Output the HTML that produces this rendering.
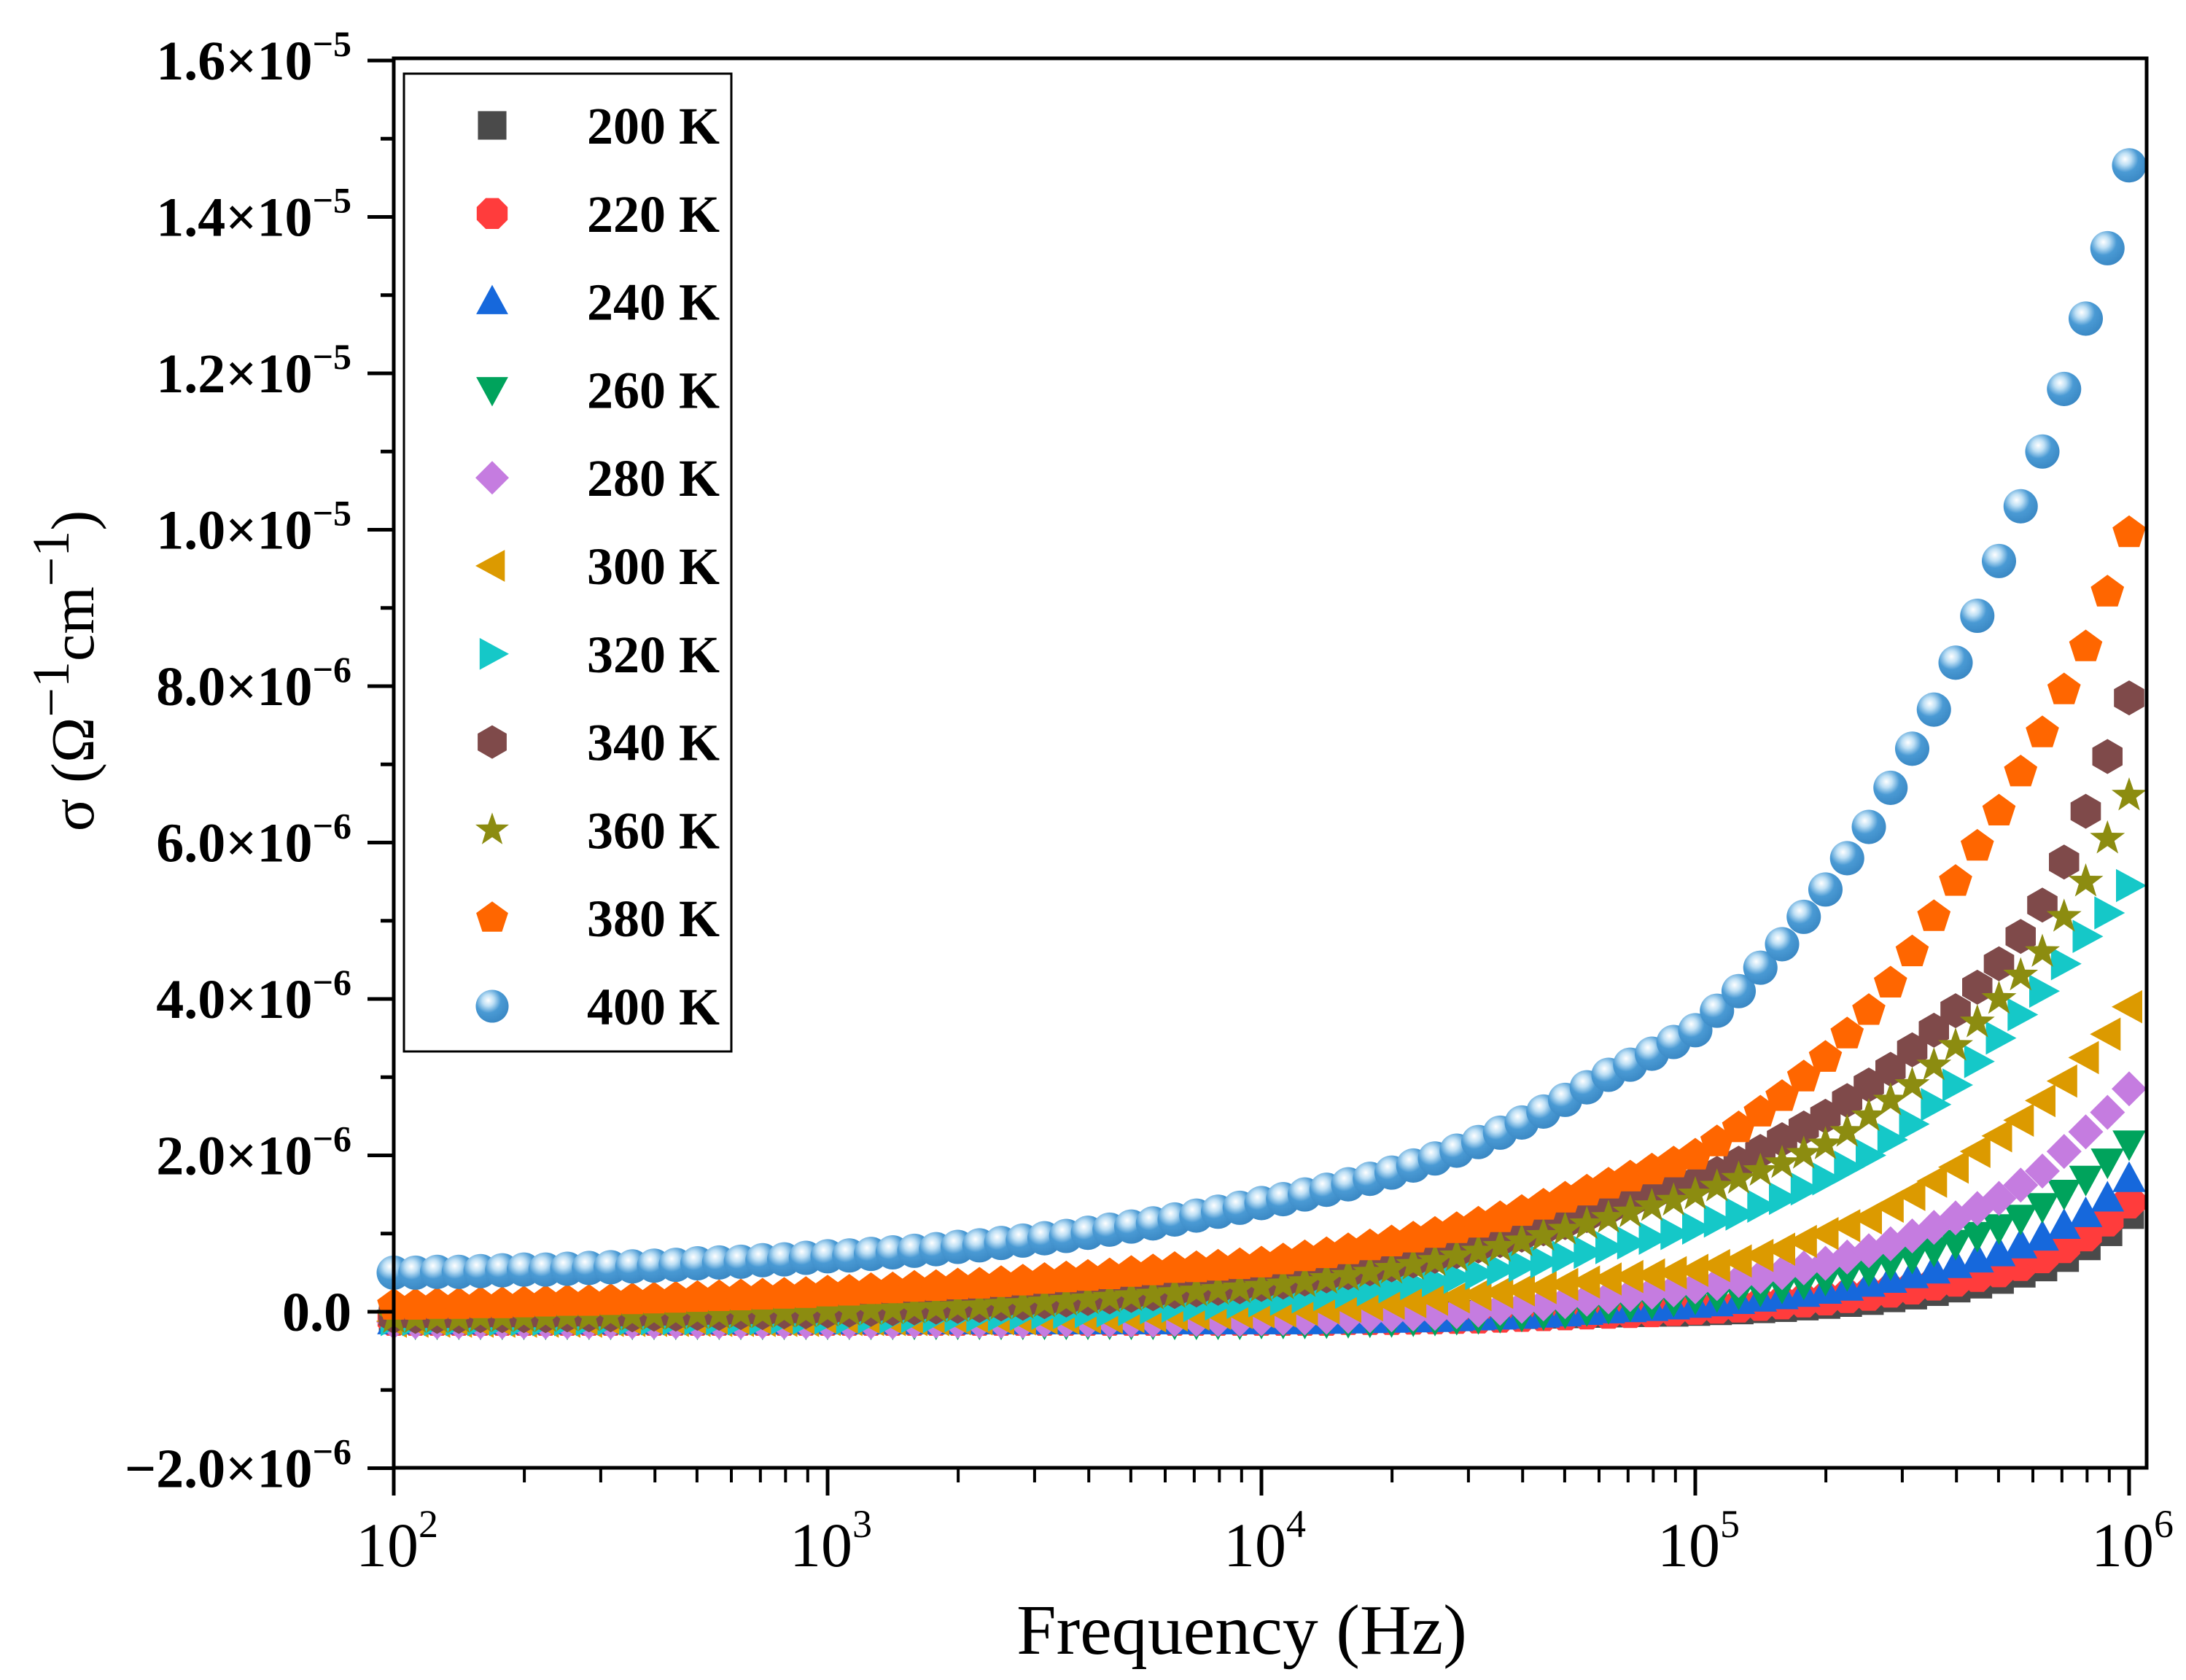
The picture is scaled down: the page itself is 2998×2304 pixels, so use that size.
<!DOCTYPE html>
<html><head><meta charset="utf-8"><title>AC conductivity vs frequency</title>
<style>html,body{margin:0;padding:0;background:#fff}svg{display:block}</style></head>
<body>
<svg id="chart" xmlns="http://www.w3.org/2000/svg" width="2998" height="2304" viewBox="0 0 2998 2304">
<defs>
<radialGradient id="sph" cx="0.38" cy="0.32" r="0.7">
<stop offset="0" stop-color="#ffffff"/><stop offset="0.25" stop-color="#bfe0f5"/><stop offset="0.55" stop-color="#4a9ad4"/><stop offset="1" stop-color="#3a88c4"/>
</radialGradient>
</defs>
<rect x="0" y="0" width="2998" height="2304" fill="#fff"/>
<g id="marks"></g>
<g id="axes"></g>
<g id="legend"></g>
</svg>
<script>
const logF = [2.00,2.05,2.10,2.15,2.20,2.25,2.30,2.35,2.40,2.45,2.50,2.55,2.60,2.65,2.70,2.75,2.80,2.85,2.90,2.95,
3.00,3.05,3.10,3.15,3.20,3.25,3.30,3.35,3.40,3.45,3.50,3.55,3.60,3.65,3.70,3.75,3.80,3.85,3.90,3.95,
4.00,4.05,4.10,4.15,4.20,4.25,4.30,4.35,4.40,4.45,4.50,4.55,4.60,4.65,4.70,4.75,4.80,4.85,4.90,4.95,
5.00,5.05,5.10,5.15,5.20,5.25,5.30,5.35,5.40,5.45,5.50,5.55,5.60,5.65,5.70,5.75,5.80,5.85,5.90,5.95,6.00];
const seriesNames = ["200 K","220 K","240 K","260 K","280 K","300 K","320 K","340 K","360 K","380 K","400 K"];
// values in units of 1e-6 (Ω^-1 cm^-1)
const s200 = [-0.06,-0.06,-0.06,-0.06,-0.06,-0.06,-0.06,-0.06,-0.06,-0.06,-0.06,-0.06,-0.06,-0.06,-0.06,-0.06,-0.06,-0.06,-0.06,-0.06,
-0.06,-0.06,-0.06,-0.06,-0.06,-0.06,-0.06,-0.06,-0.06,-0.06,-0.06,-0.06,-0.06,-0.06,-0.06,-0.06,-0.06,-0.06,-0.06,-0.06,
-0.06,-0.06,-0.06,-0.06,-0.06,-0.055,-0.05,-0.05,-0.05,-0.045,-0.04,-0.035,-0.03,-0.025,-0.02,-0.015,-0.01,-0.005,0.0,0.0,
0.01,0.02,0.03,0.045,0.06,0.08,0.1,0.125,0.15,0.185,0.22,0.265,0.31,0.36,0.42,0.5,0.58,0.7,0.85,1.03,1.25];
const s220 = [-0.10,-0.10,-0.10,-0.10,-0.10,-0.10,-0.10,-0.10,-0.10,-0.10,-0.10,-0.10,-0.10,-0.10,-0.10,-0.10,-0.10,-0.10,-0.10,-0.10,
-0.10,-0.10,-0.10,-0.10,-0.10,-0.10,-0.10,-0.10,-0.10,-0.10,-0.10,-0.10,-0.10,-0.10,-0.10,-0.10,-0.10,-0.10,-0.10,-0.10,
-0.10,-0.10,-0.10,-0.10,-0.09,-0.09,-0.09,-0.085,-0.08,-0.075,-0.07,-0.06,-0.05,-0.04,-0.03,-0.02,-0.01,0.0,0.01,0.025,
0.04,0.055,0.07,0.09,0.11,0.135,0.16,0.19,0.22,0.26,0.3,0.35,0.4,0.46,0.52,0.6,0.7,0.83,0.98,1.17,1.4];
const s240 = [-0.12,-0.12,-0.12,-0.12,-0.12,-0.12,-0.12,-0.12,-0.12,-0.12,-0.12,-0.12,-0.12,-0.12,-0.12,-0.12,-0.12,-0.12,-0.12,-0.12,
-0.12,-0.12,-0.12,-0.12,-0.12,-0.12,-0.12,-0.12,-0.12,-0.12,-0.12,-0.12,-0.12,-0.12,-0.12,-0.12,-0.12,-0.12,-0.12,-0.12,
-0.12,-0.12,-0.12,-0.115,-0.11,-0.105,-0.10,-0.095,-0.09,-0.08,-0.07,-0.06,-0.05,-0.035,-0.02,0.0,0.02,0.035,0.05,0.07,
0.09,0.11,0.14,0.17,0.2,0.23,0.27,0.31,0.36,0.41,0.47,0.53,0.6,0.67,0.75,0.85,0.95,1.1,1.25,1.45,1.7];
const s260 = [-0.14,-0.14,-0.14,-0.14,-0.14,-0.14,-0.14,-0.14,-0.14,-0.14,-0.14,-0.14,-0.14,-0.14,-0.14,-0.14,-0.14,-0.14,-0.14,-0.14,
-0.14,-0.14,-0.14,-0.14,-0.14,-0.14,-0.14,-0.14,-0.14,-0.14,-0.14,-0.14,-0.14,-0.14,-0.14,-0.14,-0.14,-0.14,-0.14,-0.14,
-0.13,-0.13,-0.13,-0.125,-0.12,-0.115,-0.11,-0.10,-0.09,-0.08,-0.07,-0.055,-0.04,-0.02,0.0,0.03,0.06,0.09,0.12,0.15,
0.18,0.21,0.24,0.28,0.32,0.37,0.42,0.48,0.54,0.62,0.7,0.79,0.88,0.98,1.08,1.2,1.35,1.52,1.7,1.92,2.15];
const s280 = [-0.13,-0.13,-0.13,-0.13,-0.13,-0.13,-0.13,-0.13,-0.13,-0.13,-0.13,-0.13,-0.13,-0.13,-0.13,-0.13,-0.13,-0.13,-0.13,-0.13,
-0.13,-0.13,-0.13,-0.13,-0.12,-0.12,-0.12,-0.12,-0.12,-0.12,-0.11,-0.11,-0.11,-0.11,-0.11,-0.11,-0.10,-0.10,-0.10,-0.10,
-0.09,-0.085,-0.08,-0.07,-0.06,-0.05,-0.04,-0.03,-0.02,0.0,0.02,0.045,0.07,0.10,0.13,0.16,0.19,0.22,0.25,0.28,
0.32,0.36,0.4,0.45,0.5,0.56,0.62,0.7,0.78,0.87,0.97,1.08,1.2,1.32,1.45,1.62,1.8,2.05,2.3,2.55,2.85];
const s300 = [-0.12,-0.12,-0.12,-0.12,-0.12,-0.12,-0.12,-0.12,-0.12,-0.12,-0.11,-0.11,-0.11,-0.11,-0.11,-0.11,-0.11,-0.11,-0.11,-0.11,
-0.10,-0.10,-0.10,-0.10,-0.10,-0.10,-0.09,-0.09,-0.09,-0.09,-0.08,-0.08,-0.07,-0.07,-0.06,-0.05,-0.04,-0.03,-0.02,-0.01,
0.0,0.01,0.03,0.05,0.07,0.09,0.11,0.13,0.16,0.19,0.22,0.25,0.28,0.31,0.35,0.38,0.42,0.45,0.47,0.50,
0.53,0.59,0.65,0.72,0.8,0.9,1.0,1.1,1.2,1.35,1.5,1.67,1.85,2.05,2.25,2.45,2.7,2.95,3.25,3.55,3.9];
const s320 = [-0.10,-0.10,-0.10,-0.10,-0.10,-0.10,-0.10,-0.10,-0.10,-0.10,-0.09,-0.09,-0.09,-0.09,-0.09,-0.09,-0.09,-0.09,-0.08,-0.08,
-0.08,-0.08,-0.07,-0.07,-0.06,-0.06,-0.05,-0.05,-0.04,-0.03,-0.02,-0.01,0.0,0.01,0.03,0.05,0.07,0.08,0.10,0.12,
0.14,0.16,0.19,0.22,0.25,0.28,0.32,0.36,0.40,0.44,0.49,0.54,0.59,0.64,0.70,0.76,0.82,0.88,0.94,1.0,
1.07,1.16,1.25,1.35,1.45,1.57,1.7,1.85,2.0,2.2,2.4,2.65,2.9,3.2,3.5,3.8,4.1,4.45,4.8,5.1,5.45];
const s340 = [-0.06,-0.06,-0.06,-0.06,-0.05,-0.05,-0.05,-0.05,-0.04,-0.04,-0.04,-0.04,-0.03,-0.03,-0.02,-0.02,-0.01,-0.01,0.0,0.0,
0.01,0.02,0.03,0.04,0.05,0.06,0.07,0.08,0.10,0.11,0.13,0.15,0.17,0.19,0.21,0.23,0.26,0.28,0.30,0.32,
0.35,0.38,0.42,0.46,0.50,0.55,0.60,0.65,0.71,0.77,0.84,0.91,0.98,1.06,1.14,1.23,1.32,1.41,1.5,1.57,
1.65,1.77,1.9,2.05,2.2,2.35,2.5,2.7,2.9,3.1,3.35,3.6,3.85,4.15,4.45,4.8,5.2,5.75,6.4,7.1,7.85];
const s360 = [-0.08,-0.08,-0.08,-0.08,-0.07,-0.07,-0.07,-0.07,-0.06,-0.06,-0.05,-0.05,-0.04,-0.04,-0.03,-0.03,-0.02,-0.02,-0.01,-0.01,
0.0,0.01,0.02,0.03,0.04,0.05,0.06,0.07,0.09,0.10,0.12,0.14,0.16,0.18,0.20,0.22,0.24,0.26,0.28,0.30,
0.32,0.35,0.38,0.42,0.46,0.50,0.55,0.60,0.65,0.71,0.77,0.83,0.90,0.97,1.05,1.12,1.2,1.27,1.35,1.42,
1.5,1.6,1.7,1.8,1.9,2.02,2.14,2.3,2.5,2.7,2.9,3.15,3.4,3.7,4.0,4.3,4.6,5.05,5.5,6.05,6.6];
const s380 = [0.08,0.08,0.09,0.09,0.10,0.10,0.11,0.12,0.13,0.13,0.14,0.15,0.16,0.17,0.18,0.19,0.20,0.21,0.22,0.23,
0.25,0.26,0.28,0.29,0.31,0.32,0.34,0.35,0.37,0.39,0.41,0.43,0.45,0.47,0.50,0.52,0.55,0.56,0.58,0.60,
0.62,0.66,0.70,0.74,0.79,0.84,0.89,0.94,1.0,1.06,1.13,1.20,1.28,1.36,1.45,1.54,1.63,1.72,1.81,1.9,
2.0,2.17,2.35,2.55,2.75,3.0,3.25,3.55,3.85,4.2,4.6,5.05,5.5,5.95,6.4,6.9,7.4,7.95,8.5,9.2,9.96];
const s400 = [0.50,0.50,0.51,0.51,0.52,0.53,0.54,0.54,0.55,0.56,0.57,0.58,0.59,0.60,0.62,0.63,0.64,0.66,0.67,0.69,
0.71,0.72,0.74,0.76,0.78,0.80,0.83,0.85,0.88,0.91,0.94,0.97,1.01,1.05,1.09,1.13,1.18,1.23,1.28,1.33,
1.39,1.44,1.50,1.56,1.63,1.70,1.78,1.87,1.96,2.06,2.17,2.29,2.42,2.56,2.71,2.87,3.03,3.16,3.3,3.45,
3.6,3.85,4.1,4.4,4.7,5.05,5.4,5.8,6.2,6.7,7.2,7.7,8.3,8.9,9.6,10.3,11.0,11.8,12.7,13.6,14.66];
const allSeries = [s200,s220,s240,s260,s280,s300,s320,s340,s360,s380,s400];
const yTickValues = [-2,0,2,4,6,8,10,12,14,16];
const yTickMant = ["\u22122.0","0.0","2.0","4.0","6.0","8.0","1.0","1.2","1.4","1.6"];
const yTickExp = ["\u22126","","\u22126","\u22126","\u22126","\u22126","\u22125","\u22125","\u22125","\u22125"];
const xTickExps = [2,3,4,5,6];

const colors = ["#4a4a4a","#ff3c3c","#1668dc","#00a35c","#c57ce0","#dc9a00","#15c8c8","#7f4a4a","#8c8c10","#ff6600","#4a9ad4"];
const shapes = ["square","circle","up","down","diamond","left","right","hexagon","star","pentagon","sphere"];

const NS = "http://www.w3.org/2000/svg";
const PL = 540, PR = 2944, PT = 80, PB = 2013;
const xScale = lf => 540 + (lf - 2) * 595;
const yScale = v => 1799 - v * 107.25;

function mk(tag, attrs, parent) {
  const e = document.createElementNS(NS, tag);
  for (const k in attrs) e.setAttribute(k, attrs[k]);
  parent.appendChild(e);
  return e;
}
function poly(n, r, rot) {
  const p = [];
  for (let i = 0; i < n; i++) { const a = rot + i * 2 * Math.PI / n; p.push([r * Math.cos(a), r * Math.sin(a)]); }
  return p;
}
function shapeEl(shape, cx, cy, r, color, parent) {
  let pts = null, el;
  const u = -Math.PI / 2;
  if (shape === "square") { el = mk("rect", {x: cx - r * 0.85, y: cy - r * 0.85, width: r * 1.7, height: r * 1.7, fill: color}, parent); return el; }
  if (shape === "circle") pts = poly(8, r, Math.PI / 8);
  if (shape === "up") pts = [[0, -r], [r * 0.95, r * 0.75], [-r * 0.95, r * 0.75]];
  if (shape === "down") pts = [[0, r], [r * 0.95, -r * 0.75], [-r * 0.95, -r * 0.75]];
  if (shape === "left") pts = [[-r, 0], [r * 0.75, -r * 0.95], [r * 0.75, r * 0.95]];
  if (shape === "right") pts = [[r, 0], [-r * 0.75, -r * 0.95], [-r * 0.75, r * 0.95]];
  if (shape === "diamond") pts = [[0, -r], [r, 0], [0, r], [-r, 0]];
  if (shape === "hexagon") pts = poly(6, r, u);
  if (shape === "pentagon") pts = poly(5, r, u);
  if (shape === "star") { pts = []; for (let i = 0; i < 10; i++) { const a = u + i * Math.PI / 5; const rr = i % 2 ? r * 0.42 : r * 1.05; pts.push([rr * Math.cos(a), rr * Math.sin(a)]); } }
  if (shape === "sphere") { el = mk("circle", {cx: cx, cy: cy, r: r * 0.98, fill: "url(#sph)"}, parent); return el; }
  el = mk("polygon", {points: pts.map(p => (cx + p[0]).toFixed(1) + "," + (cy + p[1]).toFixed(1)).join(" "), fill: color}, parent);
  return el;
}

const marks = document.getElementById("marks");
allSeries.forEach((vals, si) => {
  const g = mk("g", {}, marks);
  
  
  vals.forEach((v, i) => {
    const m = shapeEl(shapes[si], xScale(logF[i]), yScale(v), 24, colors[si], g);
    
    
  });
});

const axes = document.getElementById("axes");
const frame = mk("rect", {x: PL, y: PT, width: PR - PL, height: PB - PT, fill: "none", stroke: "#000", "stroke-width": 5}, axes);



// y ticks
yTickValues.forEach((v, i) => {
  const y = yScale(v);
  const t = mk("line", {x1: PL - 36, x2: PL, y1: y, y2: y, stroke: "#000", "stroke-width": 5}, axes);
  
  
  if (i < yTickValues.length - 1) {
    const ym = yScale(v + 1);
    const mt = mk("line", {x1: PL - 18, x2: PL, y1: ym, y2: ym, stroke: "#000", "stroke-width": 5}, axes);
    
    
  }
  const tx = mk("text", {x: 482, y: y + 26, "text-anchor": "end", "font-family": "Liberation Serif, serif", "font-weight": "bold", "font-size": 76, fill: "#000"}, axes);
  
  
  if (yTickExp[i]) {
    const a = mk("tspan", {}, tx); a.textContent = yTickMant[i] + "\u00d710";
    const b = mk("tspan", {dy: -32, "font-size": 50}, tx); b.textContent = yTickExp[i];
  } else { tx.textContent = yTickMant[i]; }
});

// x ticks
xTickExps.forEach((e, i) => {
  const x = xScale(e);
  const t = mk("line", {x1: x, x2: x, y1: PB, y2: PB + 38, stroke: "#000", "stroke-width": 5}, axes);
  
  
  if (i < xTickExps.length - 1) {
    for (let m = 2; m <= 9; m++) {
      const xm = xScale(e + Math.log10(m));
      const mt = mk("line", {x1: xm, x2: xm, y1: PB, y2: PB + 20, stroke: "#000", "stroke-width": 4}, axes);
      
      
    }
  }
  const tx = mk("text", {x: x - 52, y: 2148, "font-family": "Liberation Serif, serif", "font-size": 86, fill: "#000"}, axes);
  
  
  const a = mk("tspan", {}, tx); a.textContent = "10";
  const b = mk("tspan", {dy: -40, "font-size": 54}, tx); b.textContent = String(e);
});
</script>
<script>
(function(){
  const axes = document.getElementById("axes");
  const xt = document.createElementNS(NS, "text");
  xt.setAttribute("x", 1703); xt.setAttribute("y", 2268); xt.setAttribute("text-anchor", "middle");
  xt.setAttribute("font-family", "Liberation Serif, serif"); xt.setAttribute("font-size", 98);
  xt.textContent = "Frequency (Hz)";
  
  
  axes.appendChild(xt);

  const yt = document.createElementNS(NS, "text");
  yt.setAttribute("transform", "translate(128,920) rotate(-90)");
  yt.setAttribute("text-anchor", "middle");
  yt.setAttribute("font-family", "Liberation Serif, serif"); yt.setAttribute("font-size", 84);
  yt.innerHTML = '<tspan>σ (Ω</tspan><tspan dy="-34" font-size="72">−1</tspan><tspan dy="34">cm</tspan><tspan dy="-34" font-size="72">−1</tspan><tspan dy="34">)</tspan>';
  
  
  axes.appendChild(yt);

  const lg = document.getElementById("legend");
  const box = mk("rect", {x: 554, y: 101, width: 449, height: 1341, fill: "#fff", stroke: "#000", "stroke-width": 3}, lg);
  
  
  seriesNames.forEach((n, i) => {
    const base = 197 + i * 120.8;
    const g = mk("g", {}, lg);
    
    
    shapeEl(shapes[i], 675, base - 25, 23, colors[i], g);
    const t = mk("text", {x: 805, y: base, "font-family": "Liberation Serif, serif", "font-weight": "bold", "font-size": 72, fill: "#000"}, g);
    t.textContent = n;
  });
})();
</script>
</body></html>
